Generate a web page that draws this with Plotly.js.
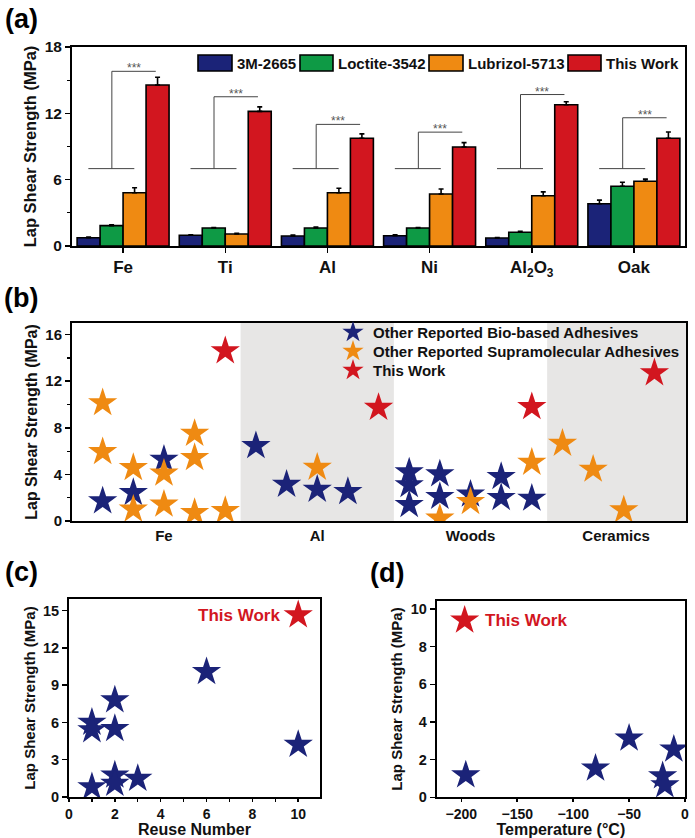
<!DOCTYPE html>
<html><head><meta charset="utf-8">
<script src="https://cdn.plot.ly/plotly-3.0.1.min.js"></script>
<style>html,body{margin:0;padding:0;background:#fff}#chart{width:695px;height:838px}</style>
</head><body><div id="chart"></div>
<script>
// ---------- Panel (a) data ----------
const categories = ['Fe', 'Ti', 'Al', 'Ni', 'Al2O3', 'Oak'];
const categoryLabels = ['Fe', 'Ti', 'Al', 'Ni', 'Al<sub>2</sub>O<sub>3</sub>', 'Oak'];
const seriesNames = ['3M-2665', 'Loctite-3542', 'Lubrizol-5713', 'This Work'];
const val3M = [0.75, 0.97, 0.90, 0.93, 0.72, 3.82];
const valLoctite = [1.84, 1.63, 1.63, 1.63, 1.24, 5.40];
const valLubrizol = [4.82, 1.08, 4.82, 4.70, 4.55, 5.85];
const valThisWork = [14.56, 12.18, 9.74, 8.95, 12.78, 9.74];
const err3M = [0.05, 0.05, 0.08, 0.08, 0.05, 0.33];
const errLoctite = [0.08, 0.05, 0.08, 0.05, 0.08, 0.36];
const errLubrizol = [0.45, 0.08, 0.40, 0.45, 0.35, 0.20];
const errThisWork = [0.70, 0.40, 0.40, 0.40, 0.27, 0.57];
const bracketTops = [15.8, 13.5, 11.0, 10.3, 13.7, 11.6];
const bracketBase = 7.0;
const sigLabel = '***';

// ---------- Panel (b) data ----------
const bGroups = ['Fe', 'Al', 'Woods', 'Ceramics'];
const bBioX = [0, 1, 2, 6, 7, 8, 5, 10, 10, 10, 11, 11, 12, 13, 13, 14];
const bBioY = [1.71, 2.43, 5.29, 3.14, 2.71, 2.51, 6.45, 4.2, 3.1, 1.4, 4.03, 2.09, 2.29, 3.8, 2.0, 1.94];
const bSupraX = [0, 0, 1, 1, 2, 2, 3, 3, 3, 4, 7, 11, 12, 14, 15, 16, 17];
const bSupraY = [10.14, 5.94, 4.57, 1.0, 4.09, 1.43, 7.51, 5.43, 0.71, 0.88, 4.6, 0.23, 1.66, 5.03, 6.66, 4.43, 0.94];
const bWorkX = [4, 9, 14, 18];
const bWorkY = [14.6, 9.74, 9.8, 12.71];
const bLegendNames = ['Other Reported Bio-based Adhesives', 'Other Reported Supramolecular Adhesives', 'This Work'];

// ---------- Panel (c) data ----------
const cReuseX = [1, 1, 1, 2, 2, 2, 2, 3, 6, 10];
const cReuseY = [6.0, 5.4, 0.81, 7.8, 5.5, 1.75, 1.08, 1.48, 10.08, 4.22];
const cWorkX = [10];
const cWorkY = [14.65];

// ---------- Panel (d) data ----------
const dTempX = [-196, -80, -50, -20, -18, -10];
const dTempY = [1.18, 1.54, 3.13, 1.13, 0.65, 2.55];
const dWorkX = [-197];
const dWorkY = [9.4];

const BLUE = '#1b2378', GREEN = '#0e9a45', ORANGE = '#ef8a12', RED = '#d2161f', GREY_BG = '#e7e6e5';
const FONT = 'Liberation Sans, Arial, Helvetica, sans-serif';
const W = 695, H = 838;
const px = v => v / W, py = v => 1 - v / H;

const barColors = [BLUE, GREEN, ORANGE, RED];
const barVals = [val3M, valLoctite, valLubrizol, valThisWork];
const barErrs = [err3M, errLoctite, errLubrizol, errThisWork];

const traces = [];
barVals.forEach((vals, i) => {
  traces.push({
    type: 'bar', x: categories, y: vals, name: seriesNames[i], xaxis: 'x', yaxis: 'y',
    marker: {color: barColors[i], line: {color: '#000', width: 1.6}},
    error_y: {type: 'data', array: barErrs[i], arrayminus: barErrs[i].map(() => 0), symmetric: false,
      color: '#000', thickness: 1.6, width: 2.5},
    showlegend: false, hoverinfo: 'x+y'
  });
});

const starLine = {width: 0};
traces.push({type: 'scatter', mode: 'markers', x: bBioX, y: bBioY, name: bLegendNames[0], xaxis: 'x2', yaxis: 'y2',
  marker: {symbol: 'star', size: 22, color: BLUE, line: starLine}, showlegend: true, legend: 'legend'});
traces.push({type: 'scatter', mode: 'markers', x: bSupraX, y: bSupraY, name: bLegendNames[1], xaxis: 'x2', yaxis: 'y2',
  marker: {symbol: 'star', size: 22, color: ORANGE, line: starLine}, showlegend: true, legend: 'legend2'});
traces.push({type: 'scatter', mode: 'markers', x: bWorkX, y: bWorkY, name: bLegendNames[2], xaxis: 'x2', yaxis: 'y2',
  marker: {symbol: 'star', size: 22, color: RED, line: starLine}, showlegend: true, legend: 'legend3'});

traces.push({type: 'scatter', mode: 'markers', x: cReuseX, y: cReuseY, xaxis: 'x3', yaxis: 'y3',
  marker: {symbol: 'star', size: 22, color: BLUE, line: starLine}, showlegend: false});
traces.push({type: 'scatter', mode: 'markers', x: cWorkX, y: cWorkY, xaxis: 'x3', yaxis: 'y3',
  marker: {symbol: 'star', size: 22, color: RED, line: starLine}, showlegend: false});

traces.push({type: 'scatter', mode: 'markers', x: dTempX, y: dTempY, xaxis: 'x4', yaxis: 'y4',
  marker: {symbol: 'star', size: 22, color: BLUE, line: starLine}, showlegend: false});
traces.push({type: 'scatter', mode: 'markers', x: dWorkX, y: dWorkY, xaxis: 'x4', yaxis: 'y4',
  marker: {symbol: 'star', size: 22, color: RED, line: starLine}, showlegend: false});

const shapes = [];
const annotations = [];

// brackets (a)
bracketTops.forEach((top, i) => {
  const ln = {color: '#444', width: 1};
  shapes.push({type: 'line', xref: 'x', yref: 'y', x0: i - 0.34, x1: i + 0.11, y0: bracketBase, y1: bracketBase, line: ln});
  shapes.push({type: 'line', xref: 'x', yref: 'y', x0: i - 0.11, x1: i - 0.11, y0: bracketBase, y1: top, line: ln});
  shapes.push({type: 'line', xref: 'x', yref: 'y', x0: i - 0.11, x1: i + 0.32, y0: top, y1: top, line: ln});
  annotations.push({xref: 'x', yref: 'y', x: i + 0.105, y: top, text: sigLabel, showarrow: false,
    yanchor: 'middle', yshift: 3, font: {family: FONT, size: 12, color: '#555'}});
});

// custom legend (a)
const legBoxes = [[198, 232], [300, 333], [429, 463], [568, 601]];
seriesNames.forEach((n, i) => {
  shapes.push({type: 'rect', xref: 'paper', yref: 'paper', x0: px(legBoxes[i][0]), x1: px(legBoxes[i][1]),
    y0: py(71), y1: py(55), fillcolor: barColors[i], line: {color: '#000', width: 1.6}});
  annotations.push({xref: 'paper', yref: 'paper', x: px(legBoxes[i][1] + 3), y: py(63), xanchor: 'left', yanchor: 'middle',
    text: n, showarrow: false, font: {family: FONT, size: 15, color: '#111', weight: 'bold'}});
});

// background bands (b)
[[4.5, 9.5], [14.5, 19.03]].forEach(b => {
  shapes.push({type: 'rect', xref: 'x2', yref: 'y2 domain', x0: b[0], x1: b[1], y0: 0, y1: 1,
    fillcolor: GREY_BG, line: {width: 0}, layer: 'below'});
});

// text labels (c), (d)
annotations.push({xref: 'x3', yref: 'y3', x: 9.3, y: cWorkY[0], xanchor: 'right', yanchor: 'middle', text: 'This Work',
  showarrow: false, font: {family: FONT, size: 17, color: RED, weight: 'bold'}});
annotations.push({xref: 'x4', yref: 'y4', x: -181, y: dWorkY[0], xanchor: 'left', yanchor: 'middle', text: 'This Work',
  showarrow: false, font: {family: FONT, size: 17, color: RED, weight: 'bold'}});

// panel labels
[['(a)', 3, 19], ['(b)', 2, 298], ['(c)', 3, 572], ['(d)', 368, 573]].forEach(p => {
  annotations.push({xref: 'paper', yref: 'paper', x: px(p[1]), y: py(p[2]), xanchor: 'left', yanchor: 'middle',
    text: p[0], showarrow: false, font: {family: FONT, size: 27, color: '#000', weight: 'bold'}});
});

const tickFont = s => ({family: FONT, size: s, color: '#111', weight: 'bold'});
const titleFont = s => ({family: FONT, size: s, color: '#111', weight: 'bold'});
const axBase = {showline: true, linecolor: '#000', linewidth: 2, mirror: true, showgrid: false, zeroline: false,
  ticks: 'outside', ticklen: 5, tickwidth: 1.5, tickcolor: '#000'};
const legBase = top => ({x: px(333), y: py(top), xanchor: 'left', yanchor: 'top', bgcolor: 'rgba(0,0,0,0)',
  font: {family: FONT, size: 15, color: '#111', weight: 'bold'}, itemclick: false});
const minorTicks = vals => ({tickvals: vals, ticks: 'outside', ticklen: 3, tickwidth: 1.2, tickcolor: '#000'});

const layout = {
  width: W, height: H, margin: {l: 0, r: 0, t: 0, b: 0}, paper_bgcolor: '#fff', plot_bgcolor: 'rgba(0,0,0,0)',
  font: {family: FONT}, barmode: 'group', bargap: 0.1, bargroupgap: 0,
  showlegend: true,
  legend: legBase(316), legend2: legBase(335), legend3: legBase(354),
  xaxis: Object.assign({}, axBase, {domain: [px(72), px(685)], anchor: 'y', type: 'category',
    tickvals: categories, ticktext: categoryLabels, tickfont: tickFont(17), range: [-0.5, 5.5]}),
  yaxis: Object.assign({}, axBase, {domain: [py(246), py(47)], anchor: 'x', range: [0, 18], tickvals: [0, 6, 12, 18],
    minor: minorTicks([3, 9, 15]),
    tickfont: tickFont(15.5), title: {text: 'Lap Shear Strength (MPa)', font: titleFont(16.5), standoff: 4}}),
  xaxis2: Object.assign({}, axBase, {domain: [px(72), px(686)], anchor: 'y2', range: [-1, 19.03],
    tickvals: [2, 7, 12, 16.75], ticktext: bGroups, ticks: '', tickfont: tickFont(15)}),
  yaxis2: Object.assign({}, axBase, {domain: [py(521), py(323)], anchor: 'x2', range: [0, 17], tickvals: [0, 4, 8, 12, 16],
    tickfont: tickFont(15), minor: minorTicks([2, 6, 10, 14]),
    title: {text: 'Lap Shear Strength (MPa)', font: titleFont(16), standoff: 4}}),
  xaxis3: Object.assign({}, axBase, {domain: [px(69), px(320)], anchor: 'y3', range: [0, 10.95], tickvals: [0, 2, 4, 6, 8, 10],
    ticklen: 3, tickfont: tickFont(14), minor: minorTicks([1, 3, 5, 7, 9]),
    title: {text: 'Reuse Number', font: titleFont(16), standoff: 0}}),
  yaxis3: Object.assign({}, axBase, {domain: [py(797), py(599)], anchor: 'x3', range: [0, 15.94], tickvals: [0, 3, 6, 9, 12, 15],
    tickfont: tickFont(14.5), title: {text: 'Lap Shear Strength (MPa)', font: titleFont(15), standoff: 4}}),
  xaxis4: Object.assign({}, axBase, {domain: [px(436.7), px(685)], anchor: 'y4', range: [-222, 0], tickvals: [-200, -150, -100, -50, 0],
    ticklen: 3, tickfont: tickFont(14), title: {text: 'Temperature (°C)', font: titleFont(16), standoff: 0}}),
  yaxis4: Object.assign({}, axBase, {domain: [py(797.3), py(600.7)], anchor: 'x4', range: [0, 10.44], tickvals: [0, 2, 4, 6, 8, 10],
    tickfont: tickFont(14.5), title: {text: 'Lap Shear Strength (MPa)', font: titleFont(15), standoff: 4}}),
  shapes: shapes, annotations: annotations
};

Plotly.newPlot('chart', traces, layout, {displayModeBar: false, staticPlot: true});
</script></body></html>
